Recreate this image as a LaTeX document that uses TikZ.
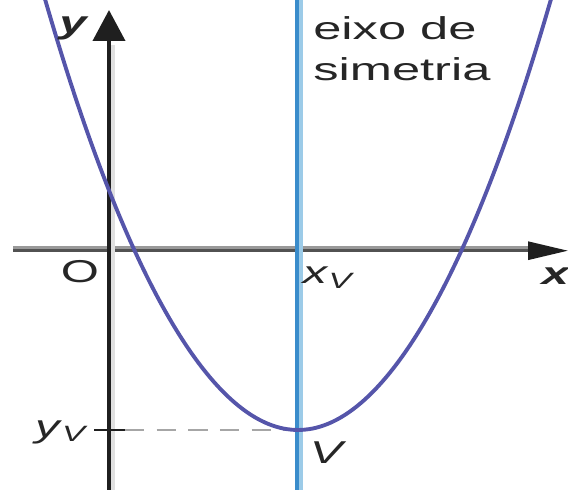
\documentclass[tikz,border=0pt]{standalone}
\usepackage{fontspec}
\setmainfont{Liberation Sans}
\usepackage{graphicx}
\usetikzlibrary{arrows.meta}
\definecolor{curva}{HTML}{5555AA}
\definecolor{azul}{HTML}{3A8CCB}
\definecolor{azulclaro}{HTML}{9CCBE8}
\newcommand{\esticar}[1]{\scalebox{1.55}[1]{#1}}

\begin{document}
\begin{tikzpicture}[x=0.02cm, y=-0.02cm,
  lbl/.style={inner sep=0pt, text=black!85, font=\fontsize{18}{23}\selectfont},
  eixo/.style={line width=2.3pt, black!88},
  sombra/.style={line width=2.3pt, black!12},
  simet/.style={line width=2.3pt, azul},
  simetclaro/.style={line width=2.3pt, azulclaro},
  tracej/.style={line width=1.1pt, black!35, dash pattern=on 11pt off 7pt},
  graf/.style={line width=2.2pt, curva}
]
\useasboundingbox (0,0) rectangle (568,490);
\clip (0,0) rectangle (568,490);
% points
\coordinate (xini) at (13,250);
\coordinate (xfim) at (568,250);
\coordinate (yini) at (109,495);
\coordinate (yfim) at (109,10);
\coordinate (topo) at (297,-5);
\coordinate (base) at (297,495);
\coordinate (V) at (298,430);
\coordinate (tE) at (94,430);
\coordinate (tD) at (125,430);
% x axis (two tones)
\draw[line width=1.6pt, black!40] ([yshift=1.2pt]xini) -- ([yshift=1.2pt,xshift=-20pt]xfim);
\draw[line width=1.6pt, black!68, -{Triangle[length=0.8cm, width=0.36cm, color=black!88]}]
  ([yshift=-0.4pt]xini) -- ([yshift=-0.4pt]xfim);
% y axis
\draw[sombra] ([xshift=2.3pt]yini) -- ([xshift=2.3pt]109,45);
\draw[eixo, -{Triangle[length=0.62cm, width=0.64cm]}] (yini) -- (yfim);
% axis of symmetry
\draw[simetclaro] ([xshift=2.2pt]topo) -- ([xshift=2.2pt]base);
\draw[simet] (topo) -- (base);
% vertex marks
\draw[tracej] (tD) -- (V);
\draw[line width=1.7pt, black!88] (tE) -- (tD);
% parabola
\draw[graf] (43.5,-6) parabola bend (V) (552.5,-6);
% labels
\node[lbl] (ly) at (74,28) {\esticar{\textbf{\textit{y}}}};
\node[lbl] (lx) at (556,276) {\esticar{\textbf{\textit{x}}}};
\node[lbl] (lO) at (80,272) {\esticar{O}};
\node[lbl] (lxv) at (329,278) {\esticar{\textit{x}\textsubscript{\textit{V}}}};
\node[lbl] (lyv) at (62,432) {\esticar{\textit{y}\textsubscript{\textit{V}}}};
\node[lbl] (lV) at (328,453) {\esticar{\textit{V}}};
\node[lbl, anchor=north west] (leixo) at (313,11)
  {\scalebox{1.6}[1]{\begin{tabular}{@{}l@{}}eixo de\\simetria\end{tabular}}};
\end{tikzpicture}
\end{document}
